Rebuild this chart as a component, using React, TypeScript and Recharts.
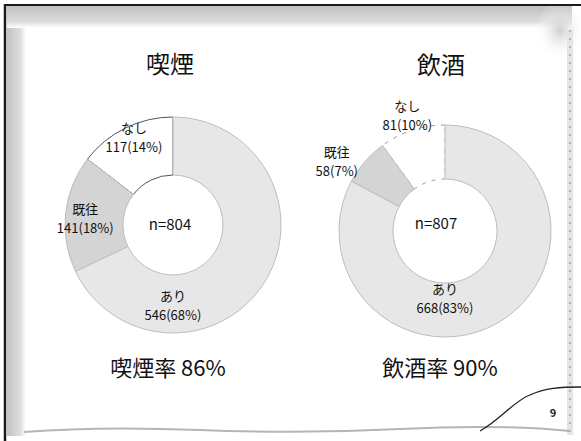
import { PieChart, Pie, Cell } from 'recharts';

// 喫煙
const smokeNames = ['なし', '既往', 'あり'];
const smokeCounts = [117, 141, 546];
const smokePct = [14, 18, 68];
const smokeTotal = 804;
const smokeRate = 86;

// 飲酒
const drinkNames = ['なし', '既往', 'あり'];
const drinkCounts = [81, 58, 668];
const drinkPct = [10, 7, 83];
const drinkTotal = 807;
const drinkRate = 90;

// label placement (angle in degrees, radius in px) per slice
const smokeLabelPos = [[114, 96], [175.5, 88], [270, 80]];
const drinkLabelPos = [[108, 122], [147, 129], [270, 67]];

const sliceFill = ['#ffffff', '#d4d4d4', '#e7e7e7'];
const FONT = '"Noto Sans CJK JP", "Noto Sans", sans-serif';
const RAD = Math.PI / 180;

const smokeData = smokeNames.map((name, i) => ({ name, value: smokeCounts[i], pct: smokePct[i] }));
const drinkData = drinkNames.map((name, i) => ({ name, value: drinkCounts[i], pct: drinkPct[i] }));

function makeLabel(pos: number[][]) {
  return (props: any) => {
    const { cx, cy, index, payload } = props;
    const [ang, r] = pos[index];
    const x = cx + r * Math.cos(ang * RAD);
    const y = cy - r * Math.sin(ang * RAD);
    const d = payload?.payload ?? payload;
    return (
      <g>
        <text x={x} y={y - 4} textAnchor="middle" fontFamily={FONT} fontSize={13} fill="#111">{d.name}</text>
        <text x={x} y={y + 15} textAnchor="middle" fontFamily={FONT} fontSize={13} fill="#111">{`${d.value}(${d.pct}%)`}</text>
      </g>
    );
  };
}

function Frame() {
  return (
    <svg width={581} height={441} style={{ position: 'absolute', left: 0, top: 0 }}>
      <defs>
        <linearGradient id="gl" x1="0" x2="1" y1="0" y2="0">
          <stop offset="0" stopColor="#c2c2c2" />
          <stop offset="0.7" stopColor="#dedede" />
          <stop offset="1" stopColor="#ffffff" />
        </linearGradient>
        <linearGradient id="gt" x1="0" x2="0" y1="0" y2="1">
          <stop offset="0" stopColor="#bfbfbf" />
          <stop offset="0.7" stopColor="#dcdcdc" />
          <stop offset="1" stopColor="#ffffff" />
        </linearGradient>
        <radialGradient id="gc" cx="0.5" cy="0.5" r="0.5">
          <stop offset="0" stopColor="#cfcfcf" />
          <stop offset="1" stopColor="#ffffff" stopOpacity={0} />
        </radialGradient>
      </defs>
      <rect x={0} y={0} width={581} height={441} fill="#ffffff" />
      <rect x={7} y={6} width={19} height={430} fill="url(#gl)" />
      <rect x={7} y={6} width={565} height={22} fill="url(#gt)" />
      <ellipse cx={560} cy={30} rx={25} ry={30} fill="url(#gc)" />
      <rect x={567} y={30} width={6} height={405} fill="#e4e4e4" />
      <line x1={570} y1={30} x2={570} y2={436} stroke="#888" strokeWidth={1} strokeDasharray="2 6" />
      <line x1={5} y1={4} x2={5} y2={441} stroke="#1a1a1a" strokeWidth={2.5} />
      <line x1={4} y1={5} x2={581} y2={5} stroke="#1a1a1a" strokeWidth={2} />
      <path d="M 24 432 Q 100 426 200 430 T 400 429 T 570 431" stroke="#b5b5b5" strokeWidth={2} fill="none" />
      <path d="M 480 431 C 500 420 515 400 530 395 C 545 388 560 387 581 387" stroke="#222" strokeWidth={1.3} fill="none" />
      <text x={553} y={417} textAnchor="middle" fontFamily={FONT} fontSize={11} fontWeight="bold" fill="#222">9</text>

      <text x={170} y={73} textAnchor="middle" fontFamily={FONT} fontSize={24} fill="#111">喫煙</text>
      <text x={441} y={74} textAnchor="middle" fontFamily={FONT} fontSize={24} fill="#111">飲酒</text>
      <text x={168} y={376} textAnchor="middle" fontFamily={FONT} fontSize={22} fill="#111">{`喫煙率 ${smokeRate}%`}</text>
      <text x={440} y={376} textAnchor="middle" fontFamily={FONT} fontSize={22} fill="#111">{`飲酒率 ${drinkRate}%`}</text>
      <text x={170} y={230} textAnchor="middle" fontFamily={FONT} fontSize={15} fill="#111">{`n=${smokeTotal}`}</text>
      <text x={436} y={229} textAnchor="middle" fontFamily={FONT} fontSize={15} fill="#111">{`n=${drinkTotal}`}</text>
    </svg>
  );
}

export default function App() {
  return (
    <div style={{ position: 'absolute', left: 0, top: 0, width: 581, height: 441, background: '#fff' }}>
      <Frame />
      <div style={{ position: 'absolute', left: 0, top: 0 }}>
        <PieChart width={581} height={441}>
          <Pie
            data={smokeData}
            dataKey="value"
            cx={168}
            cy={220}
            innerRadius={50}
            outerRadius={108}
            startAngle={90}
            endAngle={450}
            label={makeLabel(smokeLabelPos)}
            labelLine={false}
            isAnimationActive={false}
          >
            {smokeData.map((d, i) => (
              <Cell key={d.name} fill={sliceFill[i]} stroke={i === 0 ? '#555' : '#bdbdbd'} strokeWidth={1} />
            ))}
          </Pie>
          <Pie
            data={drinkData}
            dataKey="value"
            cx={440}
            cy={226}
            innerRadius={52}
            outerRadius={106}
            startAngle={90}
            endAngle={450}
            label={makeLabel(drinkLabelPos)}
            labelLine={false}
            isAnimationActive={false}
          >
            {drinkData.map((d, i) => (
              <Cell key={d.name} fill={sliceFill[i]} stroke={i === 0 ? '#999' : '#bdbdbd'} strokeWidth={1} strokeDasharray={i === 0 ? '4 6' : undefined} />
            ))}
          </Pie>
        </PieChart>
      </div>
    </div>
  );
}
